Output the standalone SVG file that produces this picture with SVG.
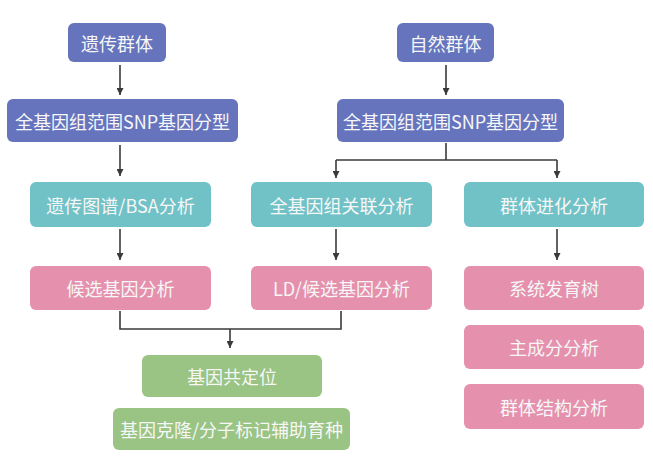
<svg xmlns="http://www.w3.org/2000/svg" width="653" height="468" viewBox="0 0 653 468">
<style>
text{font-family:"Noto Sans CJK SC","Noto Sans",sans-serif;font-size:18px;fill:#f7f7f7;text-anchor:middle;dominant-baseline:central}
.b{fill:#6574bd}.t{fill:#70c2c7}.p{fill:#e591ae}.g{fill:#99c484}
.c path{fill:none;stroke:#3a3a3a;stroke-width:1.6}
</style>
<defs>
<marker id="ar" viewBox="0 0 10 10" refX="10" refY="5" markerWidth="7" markerHeight="7" markerUnits="userSpaceOnUse" orient="auto"><path d="M0,0L10,5L0,10z" fill="#3a3a3a"/></marker>
</defs>
<rect width="653" height="468" fill="#fff"/>
<g class="c">
<path d="M120,65V95" marker-end="url(#ar)"/>
<path d="M120,145V176" marker-end="url(#ar)"/>
<path d="M120,229V260" marker-end="url(#ar)"/>
<path d="M446,65V95" marker-end="url(#ar)"/>
<path d="M446,143V160"/>
<path d="M336,160H557"/>
<path d="M336,160V178" marker-end="url(#ar)"/>
<path d="M557,160V178" marker-end="url(#ar)"/>
<path d="M336,229V260" marker-end="url(#ar)"/>
<path d="M557,229V260" marker-end="url(#ar)"/>
<path d="M120,311V329H341V311"/>
<path d="M230,329V348" marker-end="url(#ar)"/>
</g>
<g id="n1"><rect class="b" x="68" y="23" width="98" height="39" rx="6"/><text x="117" y="42.5">遗传群体</text></g>
<g id="n2"><rect class="b" x="397" y="23" width="97" height="39" rx="6"/><text x="445.5" y="42.5">自然群体</text></g>
<g id="n3"><rect class="b" x="7" y="99" width="231" height="43" rx="6"/><text x="122.5" y="120.5">全基因组范围SNP基因分型</text></g>
<g id="n4"><rect class="b" x="337" y="99" width="227" height="43" rx="6"/><text x="450.5" y="120.5">全基因组范围SNP基因分型</text></g>
<g id="n5"><rect class="t" x="30" y="182" width="181" height="45" rx="6"/><text x="120.5" y="204.5">遗传图谱/BSA分析</text></g>
<g id="n6"><rect class="t" x="251" y="182" width="181" height="45" rx="6"/><text x="341.5" y="204.5">全基因组关联分析</text></g>
<g id="n7"><rect class="t" x="464" y="182" width="180" height="45" rx="6"/><text x="554" y="204.5">群体进化分析</text></g>
<g id="n8"><rect class="p" x="30" y="266" width="181" height="44" rx="6"/><text x="120.5" y="288">候选基因分析</text></g>
<g id="n9"><rect class="p" x="251" y="266" width="181" height="44" rx="6"/><text x="341.5" y="288">LD/候选基因分析</text></g>
<g id="n10"><rect class="p" x="464" y="266" width="180" height="44" rx="6"/><text x="554" y="288">系统发育树</text></g>
<g id="n11"><rect class="p" x="464" y="325" width="180" height="44" rx="6"/><text x="554" y="347">主成分分析</text></g>
<g id="n12"><rect class="p" x="464" y="384" width="180" height="45" rx="6"/><text x="554" y="406.5">群体结构分析</text></g>
<g id="n13"><rect class="g" x="142" y="355" width="180" height="42" rx="6"/><text x="232" y="376">基因共定位</text></g>
<g id="n14"><rect class="g" x="113" y="408" width="237" height="42" rx="6"/><text x="231.5" y="429">基因克隆/分子标记辅助育种</text></g>
</svg>
